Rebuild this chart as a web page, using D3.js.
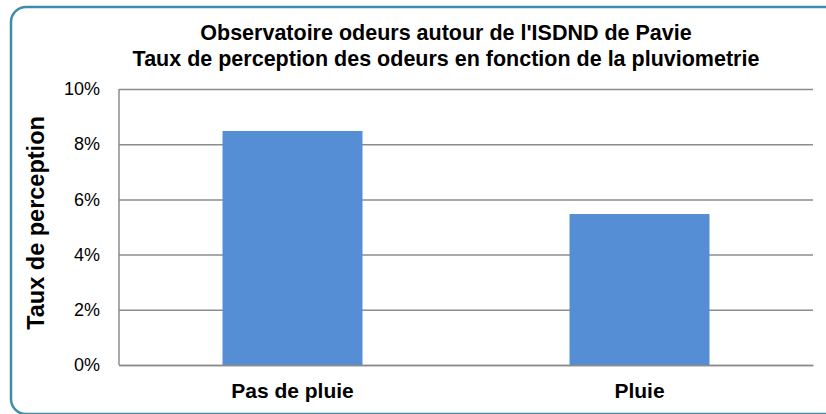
<!DOCTYPE html>
<html>
<head>
<meta charset="utf-8">
<script src="https://cdn.jsdelivr.net/npm/d3@7"></script>
<style>
  body { margin: 0; background: #fff; }
  text { font-family: "Liberation Sans", Arial, sans-serif; }
</style>
</head>
<body>
<div id="chart"></div>
<script>
const CATEGORIES = ["Pas de pluie", "Pluie"];
const VALUES = [0.0848, 0.0547];
const TICKS = [0, 0.02, 0.04, 0.06, 0.08, 0.10];
const TITLE = ["Observatoire odeurs autour de l'ISDND de Pavie",
               "Taux de perception des odeurs en fonction de la pluviometrie"];
const Y_TITLE = "Taux de perception";

const WIDTH = 826;
const HEIGHT = 414;
const PLOT = { left: 119, right: 813, top: 89, bottom: 365 };

const svg = d3.select("#chart").append("svg")
    .attr("width", WIDTH)
    .attr("height", HEIGHT);

// frame
svg.append("rect")
    .attr("x", 11)
    .attr("y", 7)
    .attr("width", 840)
    .attr("height", 407)
    .attr("rx", 15)
    .attr("fill", "#fff")
    .attr("stroke", "#3d8ea6")
    .attr("stroke-width", 2.5);

const x = d3.scaleBand()
    .domain(CATEGORIES)
    .range([PLOT.left, PLOT.right])
    .paddingInner(0.5966)
    .paddingOuter(0.2983);

const y = d3.scaleLinear()
    .domain([0, 0.10])
    .range([PLOT.bottom, PLOT.top]);

// gridlines + y labels
const yAxis = svg.append("g")
    .attr("transform", `translate(${PLOT.left},0)`)
    .call(d3.axisLeft(y)
      .tickValues(TICKS)
      .tickFormat(d3.format(".0%"))
      .tickSize(-(PLOT.right - PLOT.left))
      .tickPadding(19));

yAxis.select(".domain").remove();
yAxis.selectAll(".tick line")
    .attr("stroke", "#8c8c8c")
    .attr("stroke-width", 1.5);
yAxis.selectAll(".tick text")
    .attr("font-size", 18)
    .attr("fill", "#000")
    .attr("font-family", "Liberation Sans, Arial, sans-serif");

// vertical axis line
svg.append("line")
    .attr("x1", PLOT.left).attr("x2", PLOT.left)
    .attr("y1", PLOT.top).attr("y2", PLOT.bottom)
    .attr("stroke", "#8c8c8c")
    .attr("stroke-width", 1.5);

// bars
svg.selectAll(".bar")
  .data(VALUES)
  .enter().append("rect")
    .attr("class", "bar")
    .attr("x", (d, i) => x(CATEGORIES[i]))
    .attr("y", d => y(d))
    .attr("width", x.bandwidth())
    .attr("height", d => y(0) - y(d))
    .attr("fill", "#558ed5");

// x axis
const xAxis = svg.append("g")
    .attr("transform", `translate(0,${PLOT.bottom})`)
    .call(d3.axisBottom(x).tickSize(0).tickPadding(18));
xAxis.select(".domain")
    .attr("stroke", "#8c8c8c")
    .attr("stroke-width", 1.5);
xAxis.selectAll(".tick text")
    .attr("font-size", 21)
    .attr("font-weight", "bold")
    .attr("fill", "#000")
    .attr("font-family", "Liberation Sans, Arial, sans-serif");

// titles
svg.append("text")
    .attr("x", 446)
    .attr("y", 40)
    .attr("text-anchor", "middle")
    .attr("font-size", 21.5)
    .attr("font-weight", "bold")
    .text(TITLE[0]);

svg.append("text")
    .attr("x", 446)
    .attr("y", 66)
    .attr("text-anchor", "middle")
    .attr("font-size", 21.5)
    .attr("font-weight", "bold")
    .text(TITLE[1]);

svg.append("text")
    .attr("transform", `translate(44,223) rotate(-90)`)
    .attr("text-anchor", "middle")
    .attr("font-size", 23.5)
    .attr("font-weight", "bold")
    .text(Y_TITLE);
</script>
</body>
</html>
